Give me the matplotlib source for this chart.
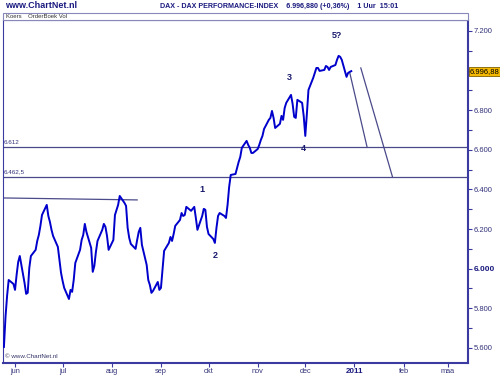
import matplotlib
matplotlib.use("Agg")
import matplotlib.pyplot as plt
from matplotlib.patches import Rectangle
import pandas as pd
import numpy as np

plt.rcParams['font.family'] = ['Liberation Sans', 'DejaVu Sans']

# ---- data (one value per trading day) ----
first_day = '2010-05-25'
last_day = '2010-12-30'
koers = [
    5605, 5757, 5863, 5943, 5923, 5893, 5969, 6034, 6064, 5928,
    5873, 5878, 6004, 6064, 6095, 6140, 6170, 6216, 6271, 6322,
    6266, 6236, 6196, 6165, 6110, 6044, 5979, 5938, 5903, 5847,
    5893, 5883, 5943, 6029, 6095, 6145, 6170, 6226, 6186, 6105,
    5984, 6014, 6085, 6140, 6196, 6226, 6211, 6165, 6095, 6145,
    6271, 6297, 6322, 6367, 6332, 6317, 6206, 6155, 6125, 6100,
    6145, 6186, 6206, 6120, 6019, 5943, 5918, 5878, 5888, 5933,
    5893, 5903, 5994, 6090, 6130, 6160, 6140, 6175, 6216, 6246,
    6281, 6266, 6271, 6312, 6292, 6302, 6312, 6256, 6196, 6266,
    6302, 6297, 6211, 6175, 6150, 6130, 6206, 6266, 6281, 6266,
    6256, 6322, 6413, 6473, 6478, 6509, 6539, 6564, 6610, 6645,
    6625, 6610, 6584, 6584, 6604, 6625, 6650, 6670, 6705, 6751,
    6761, 6796, 6761, 6710, 6731, 6771, 6751, 6811, 6837, 6877,
    6832, 6766, 6761, 6852, 6837, 6771, 6670, 6781, 6902, 6963,
    6988, 7013, 7013, 6998, 7003, 7023, 7018, 7003, 7018, 7028,
    7054, 7074, 7069, 7054, 6968, 6988, 6993, 6997,
]
laatste = 6996.88

niveaus = [6612, 6462.5]
niveau_labels = ['6.612', '6.462,5']

weerstand_datum = ['2010-05-24', '2010-08-17']
weerstand_waarde = [6357, 6347]

lijn1_datum = ['2010-12-29', '2011-01-09']
lijn1_waarde = [6990, 6612]
lijn2_datum = ['2011-01-05', '2011-01-25']
lijn2_waarde = [7013, 6462.5]

golf_labels = ['1', '2', '3', '4', '5?']
golf_datum = ['2010-09-27', '2010-10-05', '2010-11-21', '2010-11-30', '2010-12-21']
golf_waarde = [6398, 6069, 6963, 6604, 7175]

maand_datum = ['2010-06-01', '2010-07-01', '2010-08-01', '2010-09-01', '2010-10-01',
               '2010-11-01', '2010-12-01', '2011-01-01', '2011-02-01', '2011-03-01']
maand_labels = ['jun', 'jul', 'aug', 'sep', 'okt', 'nov', 'dec', '2011', 'feb', 'maa']

y_ticks = [5600, 5800, 6000, 6200, 6400, 6600, 6800, 7000, 7200]

dagen = pd.bdate_range(first_day, last_day)

navy = '#33337a'
frame = '#3a3aa0'

fig = plt.figure(figsize=(5, 3.75), dpi=100)
ax = fig.add_axes([3 / 500, 1 - 363 / 375, 465 / 500, 343 / 375])

ax.plot(dagen, koers, color='#0000cc', lw=1.4, zorder=3)

for n, lab in zip(niveaus, niveau_labels):
    ax.axhline(n, color='#4a4a8a', lw=0.9, zorder=2)
    ax.text(pd.Timestamp('2010-05-25'), n + 12, lab, fontsize=4.5, color=navy,
            va='bottom', ha='left')

ax.plot(pd.to_datetime(weerstand_datum), weerstand_waarde, color='#4a4a8a', lw=0.9)
ax.plot(pd.to_datetime(lijn1_datum), lijn1_waarde, color='#4a4a8a', lw=0.9)
ax.plot(pd.to_datetime(lijn2_datum), lijn2_waarde, color='#4a4a8a', lw=0.9)

for lab, d, v in zip(golf_labels, golf_datum, golf_waarde):
    ax.text(pd.Timestamp(d), v, lab, fontsize=6.5, fontweight='bold', color='#1a1a6e',
            ha='center', va='center', zorder=4)

ax.set_xlim(pd.Timestamp('2010-05-24 10:00'), pd.Timestamp('2011-03-13 14:00'))
ax.set_ylim(5524, 7255)

# rechter koersas
ax.yaxis.tick_right()
ylabels = [f"{v:,.0f}".replace(",", ".") if v != 7000 else '' for v in y_ticks]
ax.set_yticks(y_ticks, ylabels)
ax.set_yticks(np.arange(5600, 7300, 100), minor=True)
ax.tick_params(axis='y', which='both', direction='out', length=3, width=0.8,
               color=frame, labelsize=5.5, labelcolor=navy, pad=1)
for lbl in ax.get_yticklabels():
    if lbl.get_text() == '6.000':
        lbl.set_fontweight('bold')
        lbl.set_color('#1a1a80')
        lbl.set_fontsize(6)

ax.set_xticks(pd.to_datetime(maand_datum), maand_labels)
ax.tick_params(axis='x', direction='out', length=3, width=0.8, color=frame,
               labelsize=5.3, labelcolor=navy, pad=0.5)
for lbl in ax.get_xticklabels():
    if lbl.get_text() == '2011':
        lbl.set_fontweight('bold')
        lbl.set_fontsize(5.8)
        lbl.set_color('#1a1a80')

for side in ['left', 'top']:
    ax.spines[side].set_color(frame)
    ax.spines[side].set_linewidth(0.8)
for side in ['right', 'bottom']:
    ax.spines[side].set_color(frame)
    ax.spines[side].set_linewidth(1.5)

# laatste koers
ax.text(1.004, (laatste - 5524) / (7255 - 5524), '6.996,88', transform=ax.transAxes,
        fontsize=5.5, color='black', ha='left', va='center', clip_on=False, zorder=6,
        bbox=dict(boxstyle='square,pad=0.15', fc='#f5b800', ec='#806000', lw=0.6))

ax.text(0.004, 0.012, '© www.ChartNet.nl', transform=ax.transAxes, fontsize=4.5,
        color='#333366', ha='left', va='bottom')

# kopbalk
fig.patches.append(Rectangle((3 / 500, 1 - 20 / 375), 465 / 500, 7.3 / 375,
                             transform=fig.transFigure, fc='white', ec='#8888bb', lw=0.8))
fig.text(6 / 500, 1 - 16.3 / 375, 'Koers    OrderBoek Vol', fontsize=4.3, color='#333333',
         va='center', ha='left')

fig.text(5 / 500, 1 - 6 / 375, 'www.ChartNet.nl', fontsize=6.5, fontweight='bold',
         color='#1a1a80', va='center', ha='left')
fig.text(160 / 500, 1 - 6 / 375,
         'DAX - DAX PERFORMANCE-INDEX    6.996,880 (+0,36%)    1 Uur  15:01',
         fontsize=5.1, fontweight='bold', color='#1a1a80', va='center', ha='left')

fig.savefig('out.png', dpi=100)
